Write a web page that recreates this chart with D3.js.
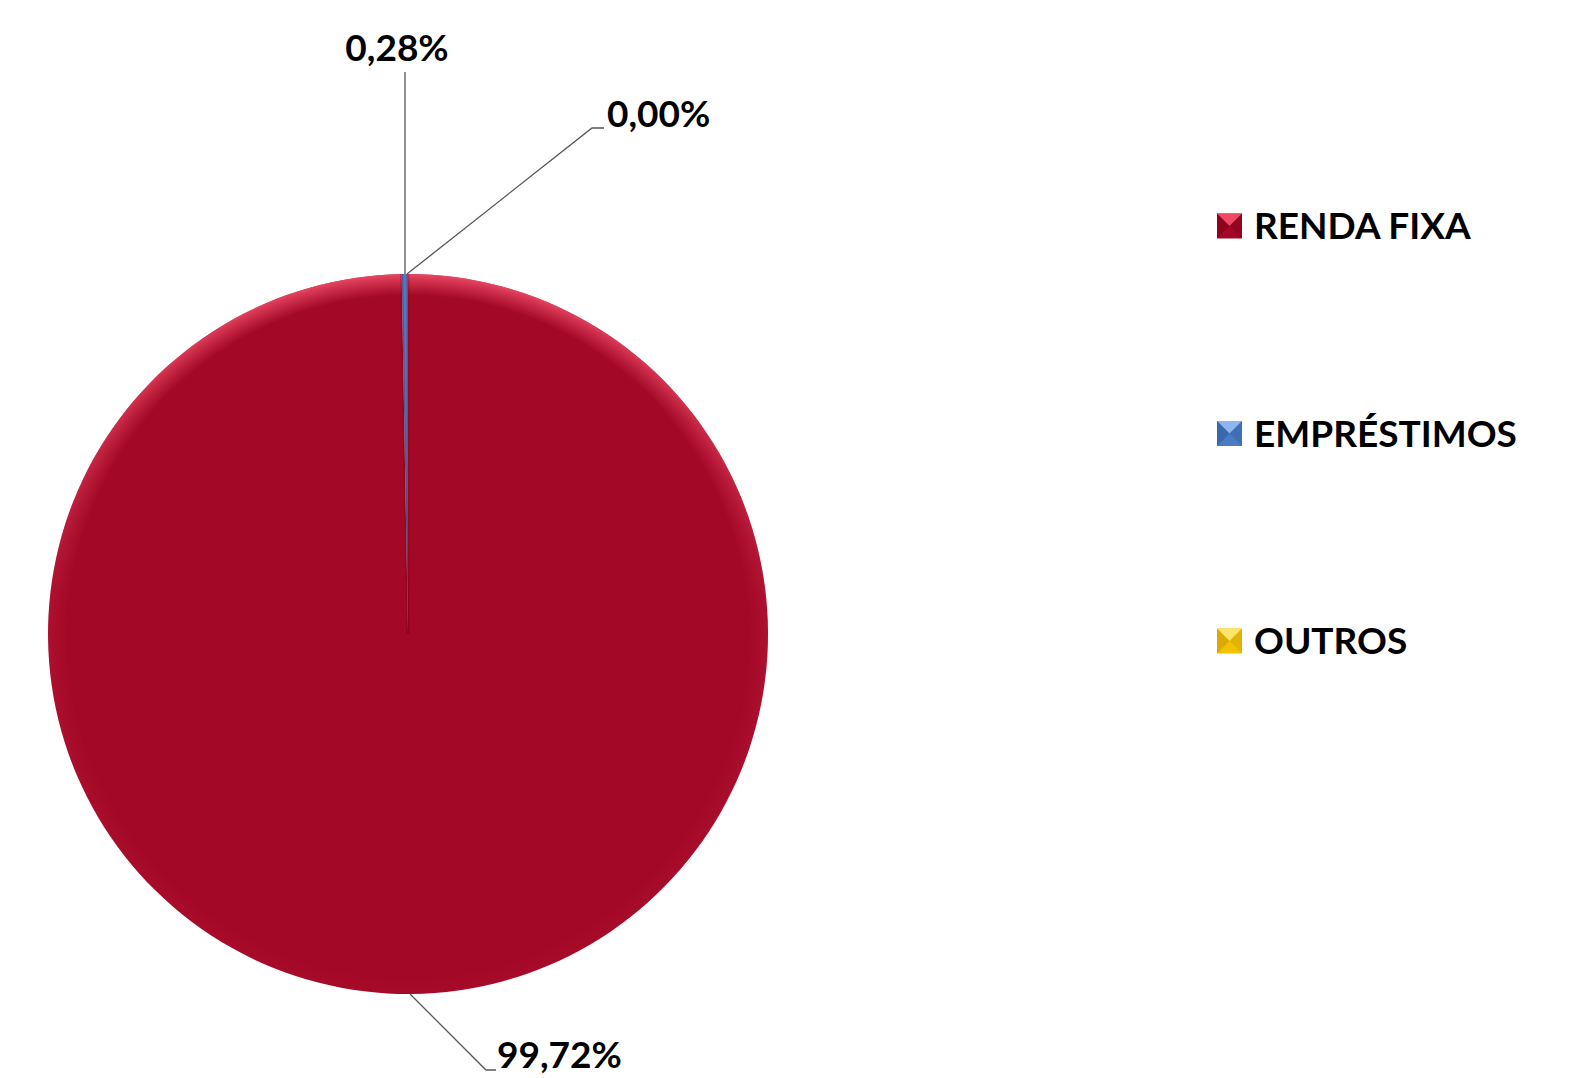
<!DOCTYPE html>
<html><head><meta charset="utf-8">
<script src="https://cdn.jsdelivr.net/npm/d3@7/dist/d3.min.js"></script>
<style>html,body{margin:0;padding:0;background:#fff;}svg{display:block;}</style>
</head><body>
<svg id="c" width="1573" height="1078"></svg>
<script>
const categories = ["RENDA FIXA", "EMPRÉSTIMOS", "OUTROS"];
const values = [99.72, 0.28, 0.00];
const valueLabels = ["99,72%", "0,28%", "0,00%"];
const colors = ["#A30826", "#4A7CC4", "#F2C200"];
const lightColors = ["#EE4A66", "#8DB6F0", "#FFE36A"];
const darkColors = ["#7E0018", "#2F5C9E", "#C99A00"];

const svg = d3.select("#c");
const cx = 408, cy = 634, R = 360;
const font = "Lato, 'Open Sans', sans-serif";
const fs = 37;

const defs = svg.append("defs");
const rad = defs.append("radialGradient").attr("id","rad")
  .attr("gradientUnits","userSpaceOnUse").attr("cx",0).attr("cy",0).attr("r",R);
rad.append("stop").attr("offset","0.94").attr("stop-color","#ff5c78").attr("stop-opacity",0);
rad.append("stop").attr("offset","0.985").attr("stop-color","#ff5c78").attr("stop-opacity",0.55);
rad.append("stop").attr("offset","1").attr("stop-color","#ff5c78").attr("stop-opacity",0.75);
const vm = defs.append("linearGradient").attr("id","vm").attr("x1",0).attr("y1",0).attr("x2",0).attr("y2",1);
vm.append("stop").attr("offset","0").attr("stop-color","#fff");
vm.append("stop").attr("offset","0.45").attr("stop-color","#fff").attr("stop-opacity",0.15);
vm.append("stop").attr("offset","1").attr("stop-color","#fff").attr("stop-opacity",0.05);
defs.append("mask").attr("id","mk").attr("maskUnits","userSpaceOnUse")
  .attr("x",-R).attr("y",-R).attr("width",2*R).attr("height",2*R)
  .append("rect").attr("x",-R).attr("y",-R).attr("width",2*R).attr("height",2*R).attr("fill","url(#vm)");

const pie = d3.pie().sort(null).value(d => d)(values);
const arc = d3.arc().innerRadius(0).outerRadius(R);

const g = svg.append("g").attr("transform", `translate(${cx},${cy})`);
g.selectAll("path.slice").data(pie).join("path")
  .attr("class","slice")
  .attr("d", arc)
  .attr("fill", (d,i) => colors[i]);

// rim bevel highlight on the main slice
g.append("path").datum(pie[0])
  .attr("d", arc)
  .attr("fill","url(#rad)")
  .attr("mask","url(#mk)");

// seam lines along slice edges
g.selectAll("line.seam").data(pie.filter(d => d.endAngle - d.startAngle > 0)).join("line")
  .attr("class","seam")
  .attr("x1",0).attr("y1",0)
  .attr("x2", d => R * Math.sin(d.startAngle))
  .attr("y2", d => -R * Math.cos(d.startAngle))
  .attr("stroke", "#7a0018").attr("stroke-opacity",0.3).attr("stroke-width",3);

// labels with leader lines
const labelPos = [
  {pts: [[410, 994], [486, 1070], [496, 1070]], tx: 497, ty: 1068},
  {pts: [[405, 274], [405, 72]], tx: 397, ty: 61, anchor: "middle"},
  {pts: [[407, 274], [592, 128], [604, 128]], tx: 607, ty: 127}
];
const line = d3.line();
svg.selectAll("path.leader").data(labelPos).join("path")
  .attr("class","leader")
  .attr("d", d => line(d.pts))
  .attr("fill","none").attr("stroke","#555").attr("stroke-width",1.3);
svg.selectAll("text.vl").data(labelPos).join("text")
  .attr("class","vl")
  .attr("x", d => d.tx).attr("y", d => d.ty)
  .attr("text-anchor", d => d.anchor || "start")
  .attr("font-family", font).attr("font-weight", "bold").attr("font-size", fs)
  .attr("fill", "#000")
  .text((d,i) => valueLabels[i]);

// legend
const legY = d3.scalePoint().domain(categories).range([226, 641]);
const lg = svg.selectAll("g.leg").data(categories).join("g")
  .attr("class","leg")
  .attr("transform", d => `translate(1217,${legY(d)})`);
const s = 25;
lg.append("rect").attr("x",0).attr("y",-s/2).attr("width",s).attr("height",s)
  .attr("fill",(d,i)=>colors[i]);
lg.append("path").attr("d", `M0,${-s/2} L${s},${-s/2} L${s/2},0 Z`).attr("fill",(d,i)=>lightColors[i]);
lg.append("path").attr("d", `M0,${-s/2} L${s/2},0 L0,${s/2} Z`).attr("fill",(d,i)=>darkColors[i]).attr("opacity",0.6);
lg.append("path").attr("d", `M${s},${-s/2} L${s/2},0 L${s},${s/2} Z`).attr("fill",(d,i)=>darkColors[i]).attr("opacity",0.4);
lg.append("text").attr("x", 37).attr("y", 13)
  .attr("font-family", font).attr("font-weight","bold").attr("font-size",fs)
  .attr("fill","#000").text(d => d);
</script>
</body></html>
